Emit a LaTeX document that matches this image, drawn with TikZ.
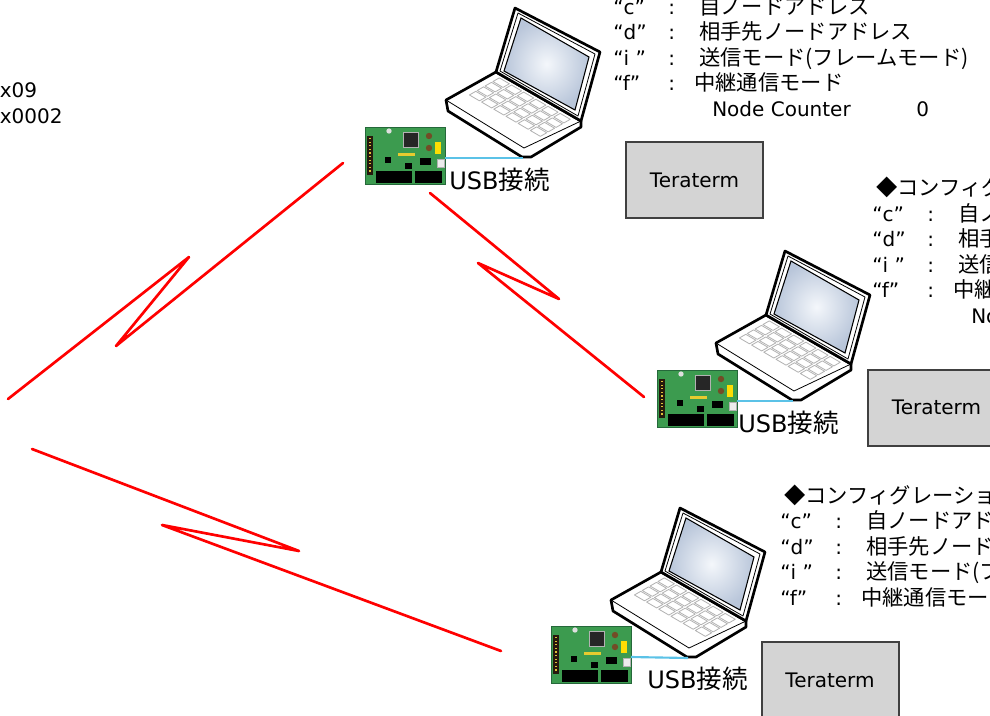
\documentclass[tikz,border=0pt]{standalone}
\usepackage{fontspec}
\setmainfont{DejaVu Sans}
\newfontfamily\jp{Noto Sans CJK JP}[Scale=1.065]
\newcommand{\J}[1]{{\jp #1}}
\definecolor{pcbgreen}{HTML}{3C9B4F}
\definecolor{pcbdark}{HTML}{25683A}
\definecolor{usbblue}{HTML}{5BC2E7}
\definecolor{tfill}{HTML}{D4D4D4}
\definecolor{tborder}{HTML}{404040}
\definecolor{scrin}{HTML}{F4F7FB}
\definecolor{scrout}{HTML}{B9C6DA}
\tikzset{
  lapout/.style={draw=black, line width=2pt, line join=round},
  lapthin/.style={draw=black, line width=0.6pt, line join=round},
  keyst/.style={draw=black!30, line width=0.6pt, fill=white, line join=round},
  radio/.style={draw=red, line width=2pt, line join=round, line cap=round},
  usbline/.style={draw=usbblue, line width=1.6pt},
  tbox/.style={draw=tborder, line width=1.5pt, fill=tfill, minimum width=102.75pt, minimum height=57pt, inner sep=0pt, font=\fontsize{15pt}{18pt}\selectfont},
  cfg/.style={anchor=base west, inner sep=0pt, font=\fontsize{15pt}{18pt}\selectfont},
  usbl/.style={anchor=base west, inner sep=0pt, font=\fontsize{18pt}{21pt}\selectfont},
  pcb/.style={draw=pcbdark, line width=0.6pt, fill=pcbgreen, minimum width=60pt, minimum height=42.75pt, inner sep=0pt},
  pics/laptop/.style={code={
    \draw[lapout, fill=white] (496,72) -- (581,121) -- (581,127) -- (531,157) -- (522,157) -- (448,111) -- (446,100) -- cycle;
    \draw[lapthin] (446,100) -- (524,148) -- (581,121);
    \begin{scope}[shift={(496,72)}, x={(63pt,-36.75pt)}, y={(-36.75pt,-21pt)}]
      \foreach \r in {0,...,3}{\foreach \c in {0,...,5}{
        \draw[keyst] ({0.08+\c*0.145},{0.07+\r*0.16}) -- ++(0.12,0) -- ++(0,0.13) -- ++(-0.12,0) -- cycle;
      }}
    \end{scope}
    \draw[lapout, fill=white] (496,72) -- (515,8) -- (600,52) -- (581,121) -- cycle;
    \draw[lapthin] (500,71) -- (518,13) -- (595,54) -- (578,116) -- cycle;
    \shade[inner color=scrin, outer color=scrout, draw=black, line width=0.8pt] (504,71) -- (521,18) -- (589,57) -- (575,110) -- cycle;
    \coordinate (-usb) at (523,158);
  }},
  pics/board/.style={code={
    \node[pcb] (-pcb) at (40,28.5) {};
    \fill[black!80!brown] (2,9) rectangle (8,48);
    \foreach \k in {0,...,9}{\fill[yellow!50!brown] (4,{11+\k*3.6}) rectangle ++(2,1.2);}
    \fill[black] (11,44) rectangle (47,56);
    \fill[black] (50,44) rectangle (77,56);
    \filldraw[fill=black!85, draw=gray!60, line width=0.4pt] (38,5) rectangle (53,20);
    \fill[gray!25] (24,4) circle (2pt);
    \fill[brown!60!black] (64,9) circle (2.4pt);
    \fill[brown!60!black] (64,21) circle (2.4pt);
    \fill[yellow!80!orange] (70,15) rectangle (76,27);
    \fill[yellow!60!brown] (33,26) rectangle (50,29);
    \fill[black] (55,31) rectangle (66,38);
    \fill[black] (40,36) rectangle (47,42);
    \fill[black] (20,30) rectangle (26,36);
    \filldraw[fill=gray!15, draw=gray!60, line width=0.4pt] (72,32) rectangle (79,40);
    \coordinate (-port) at (80,31);
  }}
}
\begin{document}
\begin{tikzpicture}[x=0.75pt,y=-0.75pt]
\useasboundingbox (0,0) rectangle (990,715);
\clip (0,0) rectangle (990,715);
\fill[white] (0,0) rectangle (990,715);

% left clipped text
\node[cfg] (lx1) at (-0.5,97) {x09};
\node[cfg] (lx2) at (-0.5,123) {x0002};

% radio links
\coordinate (r1a) at (8,399);   \coordinate (r1b) at (189,257);
\coordinate (r1c) at (116,346); \coordinate (r1d) at (343,163);
\draw[radio] (r1a) -- (r1b) -- (r1c) -- (r1d);
\coordinate (r2a) at (430,193); \coordinate (r2b) at (559,299);
\coordinate (r2c) at (478,263); \coordinate (r2d) at (644,397);
\draw[radio] (r2a) -- (r2b) -- (r2c) -- (r2d);
\coordinate (r3a) at (32,449);  \coordinate (r3b) at (299,551);
\coordinate (r3c) at (162,525); \coordinate (r3d) at (501,651);
\draw[radio] (r3a) -- (r3b) -- (r3c) -- (r3d);

% laptops and boards
\pic (lt1) at (0,0) {laptop};
\pic (lt2) at (270,243) {laptop};
\pic (lt3) at (165,500) {laptop};
\pic (b1) at (365,127) {board};
\pic (b2) at (657,370) {board};
\pic (b3) at (551,626) {board};
\draw[usbline] (b1-port) -- (lt1-usb);
\draw[usbline] (b2-port) -- (lt2-usb);
\draw[usbline] (b3-port) -- (lt3-usb);
\node[usbl] (u1) at (449,189) {USB\J{接続}};
\node[usbl] (u2) at (738,432) {USB\J{接続}};
\node[usbl] (u3) at (647,688) {USB\J{接続}};

% Teraterm boxes
\node[tbox] (t1) at (694.5,180) {Teraterm};
\node[tbox] (t2) at (936.5,407.5) {Teraterm};
\node[tbox] (t3) at (830,680) {Teraterm};

% config block 1
\node[cfg] (a1) at (613,14) {\makebox[41.25pt][l]{“c”}\makebox[23.25pt][l]{:}\J{自ノードアドレス}};
\node[cfg] (a2) at (613,39.5) {\makebox[41.25pt][l]{“d”}\makebox[23.25pt][l]{:}\J{相手先ノードアドレス}};
\node[cfg] (a3) at (613,65) {\makebox[41.25pt][l]{“i ”}\makebox[23.25pt][l]{:}\J{送信モード(フレームモード)}};
\node[cfg] (a4) at (613,90.5) {\makebox[41.25pt][l]{“f”}\makebox[19.5pt][l]{:}\J{中継通信モード}};
\node[cfg] (a5) at (712,116) {\makebox[153pt][l]{Node Counter}0};

% config block 2
\node[cfg] (c0) at (876,195.5) {\J{◆コンフィグレーション}};
\node[cfg] (c1) at (872,221) {\makebox[41.25pt][l]{“c”}\makebox[23.25pt][l]{:}\J{自ノードアドレス}};
\node[cfg] (c2) at (872,246.5) {\makebox[41.25pt][l]{“d”}\makebox[23.25pt][l]{:}\J{相手先ノードアドレス}};
\node[cfg] (c3) at (872,272) {\makebox[41.25pt][l]{“i ”}\makebox[23.25pt][l]{:}\J{送信モード(フレームモード)}};
\node[cfg] (c4) at (872,297.5) {\makebox[41.25pt][l]{“f”}\makebox[19.5pt][l]{:}\J{中継通信モード}};
\node[cfg] (c5) at (971,323) {Node Counter};

% config block 3
\node[cfg] (e0) at (784,503) {\J{◆コンフィグレーション}};
\node[cfg] (e1) at (780,528.5) {\makebox[41.25pt][l]{“c”}\makebox[23.25pt][l]{:}\J{自ノードアドレス}};
\node[cfg] (e2) at (780,554) {\makebox[41.25pt][l]{“d”}\makebox[23.25pt][l]{:}\J{相手先ノードアドレス}};
\node[cfg] (e3) at (780,579.5) {\makebox[41.25pt][l]{“i ”}\makebox[23.25pt][l]{:}\J{送信モード(フレームモード)}};
\node[cfg] (e4) at (780,605) {\makebox[41.25pt][l]{“f”}\makebox[19.5pt][l]{:}\J{中継通信モード}};
\end{tikzpicture}
\end{document}
